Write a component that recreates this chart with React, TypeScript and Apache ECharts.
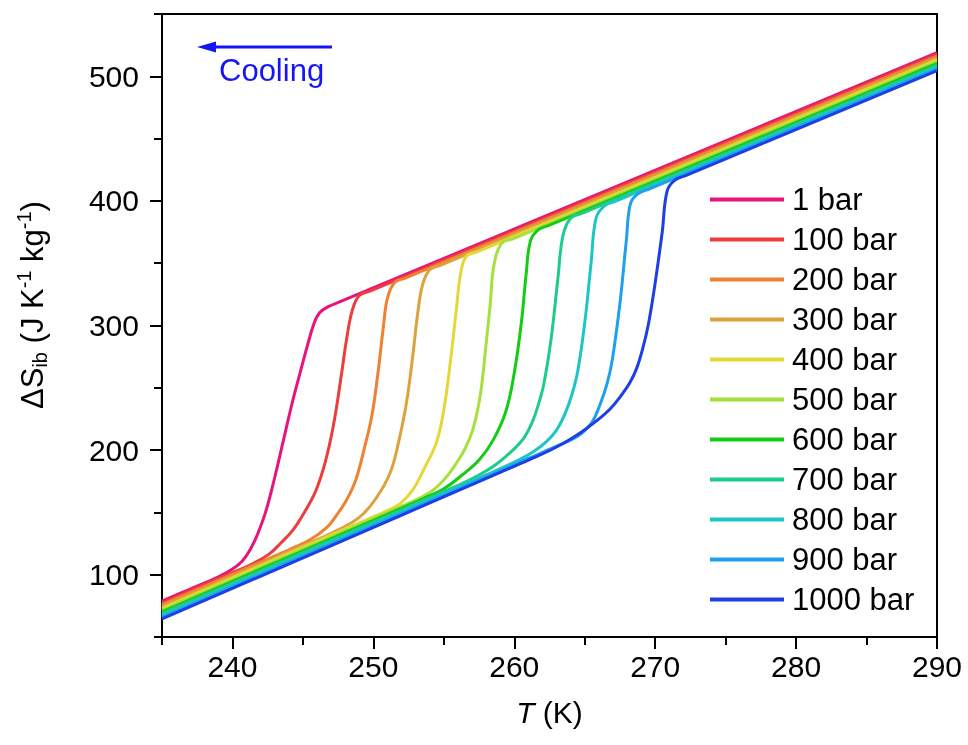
import React, { useEffect, useRef } from "react";
import * as echarts from "echarts";

const pressures = ["1 bar", "100 bar", "200 bar", "300 bar", "400 bar", "500 bar", "600 bar", "700 bar", "800 bar", "900 bar", "1000 bar"];
const colors = ["#e8147e", "#ee3b3b", "#ee8232", "#dda23b", "#e3d838", "#a6e03b", "#14cc14", "#1ecc8a", "#1dc5c5", "#1ea0ef", "#1e3ee6"];

const xTicks = [240, 250, 260, 270, 280, 290];
const yTicks = [100, 200, 300, 400, 500];

const s1 = [[235, 78.7], [237, 88.5], [239.0, 98.3], [240.0, 104.5], [240.7, 111], [241.3, 121], [241.8, 133], [242.4, 152], [243.0, 178], [243.6, 207], [244.2, 236], [244.8, 262], [245.3, 283], [245.8, 302], [246.2, 310.5], [246.8, 315.1], [247.6, 318.9], [290, 519]];
const s100 = [[235, 77.3], [239.5, 99.4], [241.5, 109.2], [242.6, 116.5], [243.4, 125], [244.3, 136], [245.1, 150], [245.9, 167], [246.6, 191], [247.2, 222], [247.7, 258], [248.1, 289], [248.5, 312], [249.0, 324.0], [249.8, 327.8], [290, 517.5]];
const s200 = [[235, 75.9], [242.0, 110.2], [244.0, 120], [245.5, 128], [246.7, 138], [247.4, 148], [248.1, 160], [248.75, 176], [249.35, 201], [249.9, 228], [250.35, 264], [250.7, 298], [251.0, 322], [251.5, 334.4], [252.3, 338.2], [290, 516.1]];
const s300 = [[235, 74.4], [245.0, 123.4], [247.0, 133.2], [249.0, 146], [250.2, 161.5], [251.2, 182], [251.8, 207], [252.35, 238], [252.8, 276], [253.15, 310], [253.5, 333], [254.0, 344.7], [254.8, 348.5], [290, 514.6]];
const s400 = [[235, 73.0], [247.5, 134.3], [249.5, 144.1], [251.0, 151.5], [251.9, 157], [252.8, 168], [253.6, 185], [254.5, 207], [255.05, 236], [255.5, 274], [255.9, 314], [256.2, 342], [256.6, 355.6], [257.4, 359.3], [290, 513.2]];
const s500 = [[235, 71.6], [250.5, 147.6], [252.5, 157.4], [254.0, 166], [255.0, 176], [255.8, 188], [256.5, 201], [257.1, 218], [257.6, 245], [258.0, 285], [258.3, 318], [258.55, 348], [259.1, 365.9], [259.9, 369.6], [290, 511.7]];
const s600 = [[235, 70.2], [251.5, 151.1], [253.5, 160.9], [255.0, 169], [256.3, 180], [257.5, 192], [258.5, 208], [259.4, 231], [260.0, 262], [260.5, 302], [260.85, 342], [261.15, 368], [261.7, 376.7], [262.5, 380.5], [290, 510.3]];
const s700 = [[235, 68.8], [254.0, 161.9], [256.0, 171.7], [257.5, 180], [258.7, 188.5], [259.9, 200], [260.7, 210], [261.3, 223], [261.8, 240], [262.1, 253], [262.6, 288], [263.1, 338], [263.45, 372], [264.0, 386.1], [264.8, 389.9], [290, 508.8]];
const s800 = [[235, 67.3], [256.5, 172.7], [258.5, 182.5], [260.4, 192.5], [261.4, 199], [262.3, 207], [263.0, 216], [263.6, 229], [264.1, 245], [264.5, 263], [265.0, 302], [265.45, 350], [265.8, 386], [266.4, 396.0], [267.2, 399.8], [290, 507.4]];
const s900 = [[235, 65.9], [261.0, 193.3], [263.0, 203.1], [264.6, 212], [265.5, 222], [266.1, 237], [266.6, 254], [266.95, 272], [267.5, 318], [267.95, 368], [268.25, 398], [268.8, 405.8], [269.6, 409.6], [290, 505.9]];
const s1000 = [[235, 64.5], [259.0, 182.1], [261.0, 191.9], [263.0, 202.5], [264.7, 214], [265.9, 224], [266.8, 233], [267.6, 244], [268.2, 254], [268.7, 266], [269.15, 283], [269.5, 300], [269.85, 323], [270.2, 350], [270.5, 375], [270.85, 408], [271.4, 416.7], [272.2, 420.5], [290, 504.5]];

const curves = [s1, s100, s200, s300, s400, s500, s600, s700, s800, s900, s1000];

const FONT = 'Arial, "Liberation Sans", Helvetica, sans-serif';
const BLUE = "#1515f5";

export default function App() {
  const ref = useRef<HTMLDivElement>(null);
  useEffect(() => {
    const chart = echarts.init(ref.current as HTMLDivElement, null, { renderer: "svg" });
    const axisCommon = {
      type: "value",
      splitLine: { show: false },
    };
    chart.setOption({
      animation: false,
      grid: { left: 162, right: 31, top: 14, bottom: 108, show: true, borderColor: "#000", borderWidth: 2, backgroundColor: "transparent" },
      xAxis: [
        {
          ...axisCommon,
          min: 235,
          max: 290,
          interval: 5,
          position: "bottom",
          axisLine: { show: true, onZero: false, lineStyle: { color: "#000", width: 2 } },
          axisTick: { show: true, length: 8, lineStyle: { color: "#000", width: 2 } },
          axisLabel: {
            color: "#000",
            fontSize: 30,
            fontFamily: FONT,
            margin: 14,
            formatter: (v: number) => (xTicks.includes(v) ? String(v) : ""),
          },
          name: "{i|T}{n| (K)}",
          nameLocation: "middle",
          nameGap: 60,
          nameTextStyle: {
            rich: {
              i: { fontSize: 30, fontStyle: "italic", fontFamily: FONT, color: "#000" },
              n: { fontSize: 30, fontFamily: FONT, color: "#000" },
            },
          },
        },
        {
          ...axisCommon,
          min: 235,
          max: 290,
          position: "bottom",
          axisLine: { show: false, onZero: false },
          axisLabel: { show: false },
          axisTick: { show: true, customValues: xTicks, length: 12, lineStyle: { color: "#000", width: 2 } },
        },
      ],
      yAxis: [
        {
          ...axisCommon,
          min: 50,
          max: 550,
          interval: 50,
          position: "left",
          axisLine: { show: true, onZero: false, lineStyle: { color: "#000", width: 2 } },
          axisTick: { show: true, length: 8, lineStyle: { color: "#000", width: 2 } },
          axisLabel: {
            color: "#000",
            fontSize: 30,
            fontFamily: FONT,
            margin: 23,
            formatter: (v: number) => (yTicks.includes(v) ? String(v) : ""),
          },
        },
        {
          ...axisCommon,
          min: 50,
          max: 550,
          position: "left",
          axisLine: { show: false, onZero: false },
          axisLabel: { show: false },
          axisTick: { show: true, customValues: yTicks, length: 12, lineStyle: { color: "#000", width: 2 } },
        },
      ],
      legend: {
        orient: "vertical",
        left: 710,
        top: 184,
        padding: 0,
        itemWidth: 74,
        itemHeight: 4,
        itemGap: 9,
        icon: "rect",
        data: pressures,
        textStyle: { fontSize: 31, lineHeight: 31, fontFamily: FONT, color: "#000", padding: [0, 0, 0, 3] },
      },
      graphic: [
        {
          type: "text",
          x: 32,
          y: 305,
          rotation: Math.PI / 2,
          style: {
            text: "{a|ΔS}{sub|ib}{a| (J K}{sup|-1}{a| kg}{sup|-1}{a|)}",
            align: "center",
            verticalAlign: "middle",
            rich: {
              a: { fontSize: 31, lineHeight: 36, fontFamily: FONT, fill: "#000", verticalAlign: "middle" },
              sub: { fontSize: 20, lineHeight: 20, fontFamily: FONT, fill: "#000", verticalAlign: "bottom" },
              sup: { fontSize: 20, lineHeight: 20, fontFamily: FONT, fill: "#000", verticalAlign: "top" },
            },
          },
        },
        {
          type: "line",
          shape: { x1: 212, y1: 47, x2: 332, y2: 47 },
          style: { stroke: BLUE, lineWidth: 3 },
        },
        {
          type: "polygon",
          shape: { points: [[197, 47], [216, 41.5], [216, 52.5]] },
          style: { fill: BLUE },
        },
        {
          type: "text",
          x: 219,
          y: 70,
          style: { text: "Cooling", fontSize: 31, fontFamily: FONT, fill: BLUE, align: "left", verticalAlign: "middle" },
        },
      ],
      series: curves.map((d, i) => ({
        name: pressures[i],
        type: "line",
        xAxisIndex: 0,
        yAxisIndex: 0,
        data: d,
        showSymbol: false,
        symbol: "none",
        smooth: 0.4,
        lineStyle: { width: 3, color: colors[i] },
        itemStyle: { color: colors[i] },
      })),
    });
    return () => chart.dispose();
  }, []);
  return <div ref={ref} style={{ position: "fixed", left: 0, top: 0, width: 968, height: 745 }} />;
}
